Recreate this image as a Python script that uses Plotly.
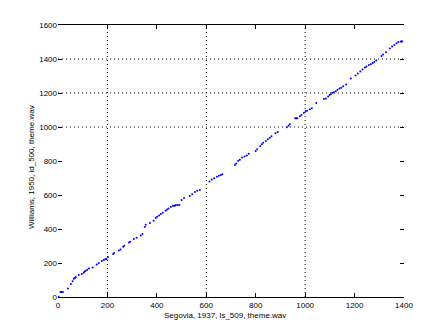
import plotly.graph_objects as go

# Data
seg_x = [2, 10, 15, 20, 40, 52, 59, 64, 68, 72, 84, 96, 104, 108, 112, 118, 125, 140,
         157, 165, 177, 185, 191, 196, 202, 223, 227, 246, 253, 264, 268, 287, 292,
         307, 318, 335, 342, 351, 355, 372, 387, 396, 401, 409, 416, 424, 436, 442,
         447, 457, 465, 469, 473, 477, 484, 491, 500, 510, 533, 543, 554, 563, 574,
         613, 622, 632, 643, 651, 659, 665, 716, 721, 729, 736, 745, 755, 764, 772,
         800, 806, 818, 825, 830, 841, 849, 857, 864, 880, 889, 926, 933, 938, 960,
         964, 968, 979, 985, 995, 1002, 1008, 1019, 1027, 1045, 1076, 1084, 1093,
         1099, 1104, 1110, 1116, 1124, 1131, 1139, 1146, 1154, 1166, 1185, 1204,
         1213, 1223, 1232, 1242, 1248, 1258, 1266, 1273, 1280, 1288, 1309, 1315,
         1327, 1343, 1352, 1361, 1370, 1377, 1387, 1390, 1393]
wil_y = [1, 30, 30, 30, 50, 77, 93, 107, 112, 118, 130, 136, 142, 150, 155, 161, 167, 173,
         191, 200, 212, 218, 222, 224, 236, 253, 259, 273, 279, 296, 302, 320, 325,
         341, 348, 362, 371, 412, 425, 435, 449, 464, 472, 480, 488, 496, 507, 515,
         521, 529, 537, 537, 537, 541, 541, 541, 570, 582, 594, 605, 617, 625, 630,
         679, 691, 699, 707, 713, 718, 722, 777, 785, 801, 808, 820, 826, 832, 843,
         859, 869, 887, 898, 908, 918, 928, 937, 945, 963, 971, 998, 1008, 1016, 1051,
         1051, 1051, 1063, 1070, 1084, 1094, 1096, 1104, 1110, 1141, 1164, 1168, 1180,
         1188, 1194, 1201, 1204, 1211, 1219, 1227, 1231, 1239, 1250, 1286, 1303,
         1315, 1327, 1338, 1350, 1356, 1364, 1369, 1376, 1383, 1391, 1418, 1426,
         1440, 1462, 1473, 1483, 1493, 1500, 1503, 1503, 1503]

x_ticks = [0, 200, 400, 600, 800, 1000, 1200, 1400]
y_ticks = [0, 200, 400, 600, 800, 1000, 1200, 1400, 1600]
x_grid = [200, 600, 1000]
y_grid = [1000, 1200, 1400]

x_title = "Segovia, 1937, ls_509, theme.wav"
y_title = "Williams, 1950, id_500, theme.wav"

font = dict(family="Liberation Sans, Arial, sans-serif", size=8, color="black")

fig = go.Figure()
fig.add_trace(go.Scatter(x=seg_x, y=wil_y, mode="markers",
                         marker=dict(color="#0000ff", size=2, line=dict(width=0)),
                         showlegend=False, hoverinfo="skip"))

shapes = []
for gx in x_grid:
    shapes.append(dict(type="line", xref="x", yref="paper", x0=gx, x1=gx, y0=0, y1=1,
                       line=dict(color="black", width=1, dash="1px,3px"), layer="below"))
for gy in y_grid:
    shapes.append(dict(type="line", xref="paper", yref="y", x0=0, x1=1, y0=gy, y1=gy,
                       line=dict(color="black", width=1, dash="1px,3px"), layer="below"))

annotations = [
    dict(text=x_title, xref="paper", yref="paper", x=0.483, y=0, yshift=-12,
         xanchor="center", yanchor="top", showarrow=False, font=font),
    dict(text=y_title, xref="paper", yref="paper", x=0, y=0.478, xshift=-26,
         xanchor="center", yanchor="middle", textangle=-90, showarrow=False, font=font),
]

fig.update_layout(
    width=447, height=335,
    margin=dict(l=58, r=43, t=25, b=38),
    paper_bgcolor="white", plot_bgcolor="white",
    font=font,
    shapes=shapes,
    annotations=annotations,
    xaxis=dict(range=[0, 1400], tickvals=x_ticks, ticktext=[str(v) for v in x_ticks],
               showgrid=False, zeroline=False, showline=True, linecolor="black",
               linewidth=1, mirror="ticks", ticks="inside", ticklen=4, tickcolor="black",
               tickfont=font),
    yaxis=dict(range=[0, 1600], tickvals=y_ticks, ticktext=[str(v) for v in y_ticks],
               showgrid=False, zeroline=False, showline=False,
               mirror="ticks", ticks="inside", ticklen=4, tickcolor="black",
               tickfont=font),
)

fig.write_html("out.html")
